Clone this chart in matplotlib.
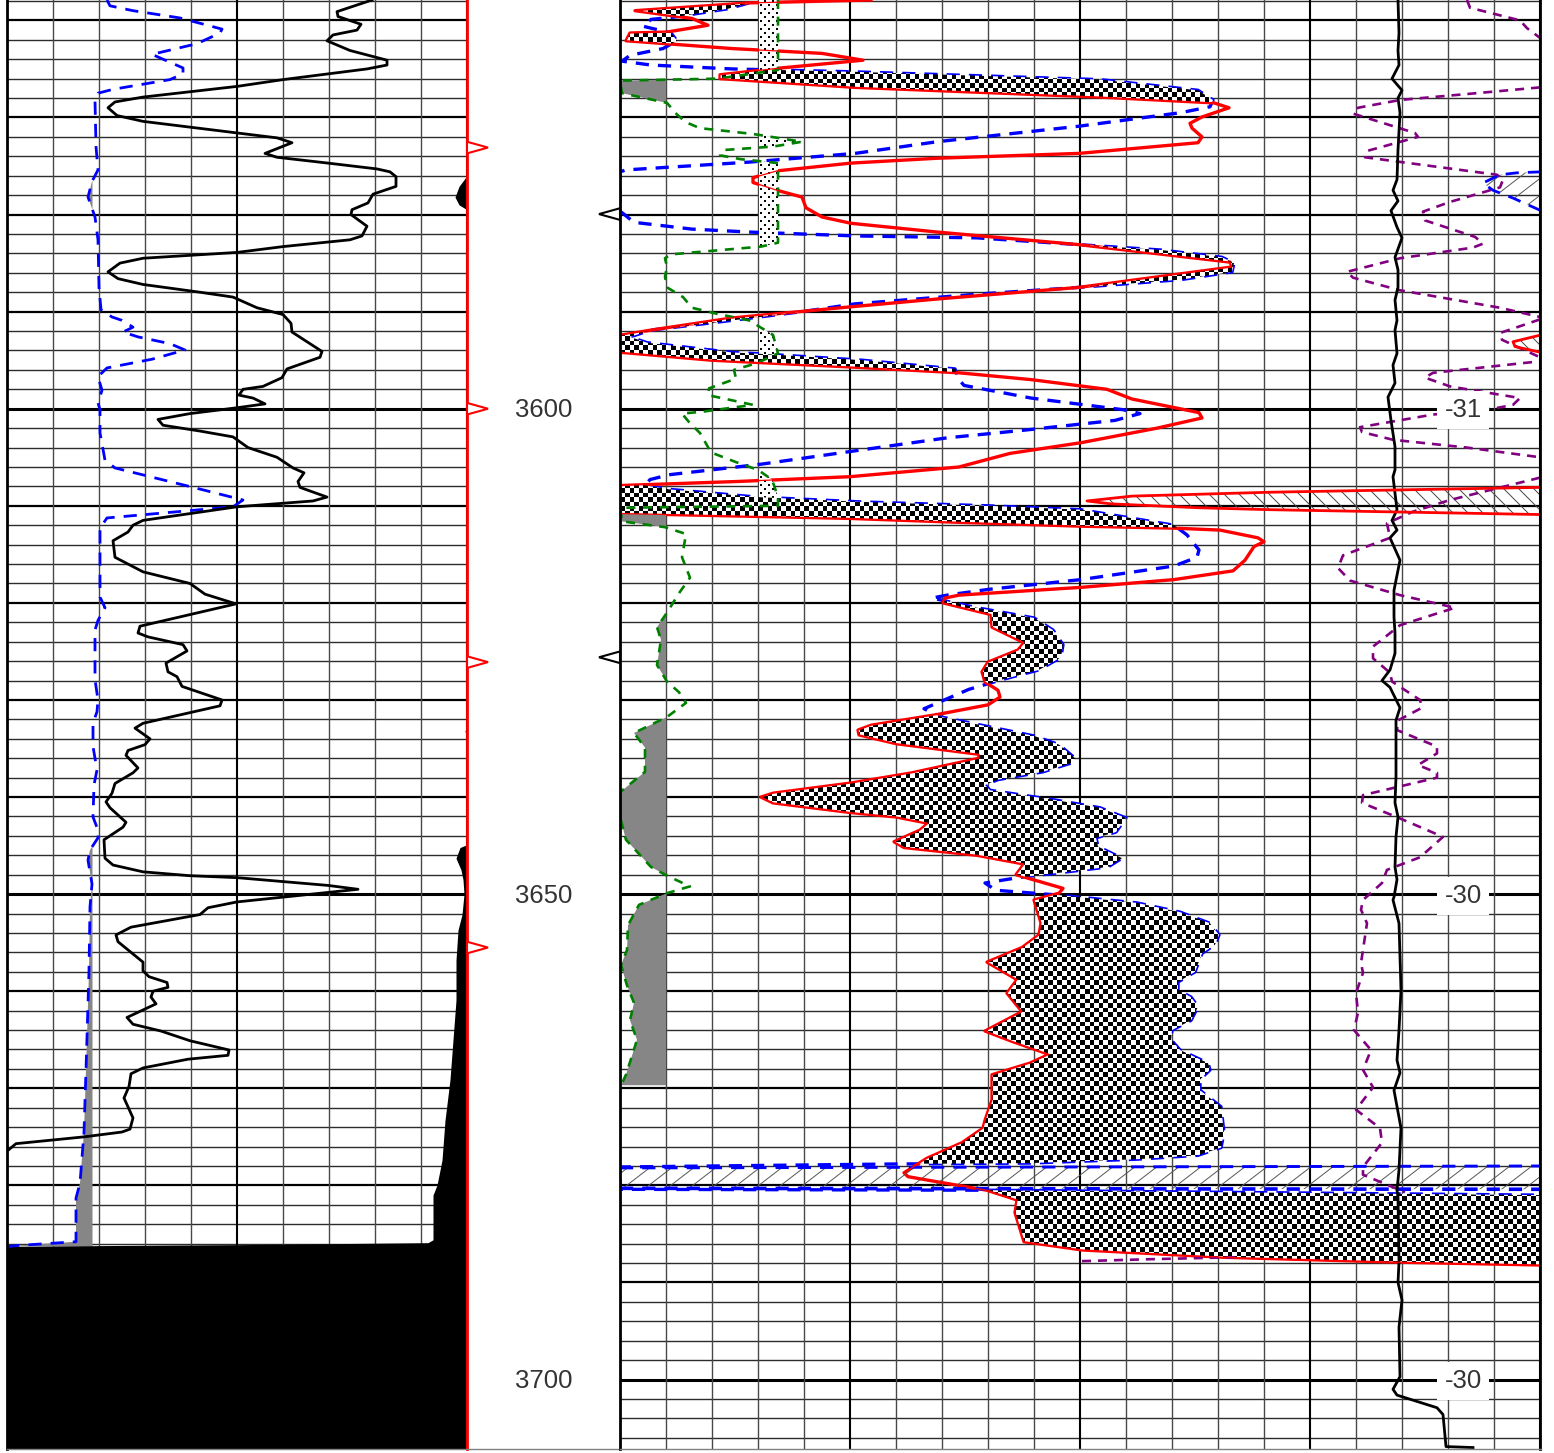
import numpy as np
import matplotlib
matplotlib.use('Agg')
import matplotlib.pyplot as plt
from matplotlib.collections import LineCollection
from matplotlib.patches import Polygon
from matplotlib.path import Path

plt.rcParams['font.family'] = ['Liberation Sans', 'DejaVu Sans']
plt.rcParams['lines.scale_dashes'] = False

W, H = 1554, 1453
DEPTH_TOP, DEPTH_BOT = 3557.9, 3707.15
LEFT_MAX, RIGHT_MAX = 460, 921

# left track
gr_v = [365, 330, 331, 354, 350, 326, 320, 343, 380, 380, 360, 276, 230, 136, 108, 101, 110, 136, 230, 270, 285, 258,
        270, 321, 370, 383, 389, 389, 366, 361, 345, 344, 360, 355, 343, 276, 230, 136, 113, 101, 111, 136, 193, 226,
        250, 276, 284, 285, 315, 313, 280, 275, 256, 236, 232, 246, 258, 230, 183, 151, 156, 193, 226, 241, 270, 286,
        297, 291, 293, 320, 306, 230, 136, 126, 121, 106, 108, 136, 183, 198, 229, 183, 133, 131, 141, 176, 180, 159,
        161, 170, 175, 215, 213, 183, 136, 128, 143, 138, 121, 119, 131, 126, 108, 105, 99, 103, 119, 116, 97, 98, 106,
        136, 183, 230, 321, 351, 286, 230, 201, 193, 124, 109, 111, 136, 136, 142, 160, 161, 146, 144, 149, 120, 126,
        154, 183, 222, 221, 181, 136, 124, 122, 117, 126, 123, 115, 77, 9, 2]
gr_d = [3557.9, 3559.1, 3559.6, 3560.4, 3561.0, 3561.5, 3562.1, 3563.1, 3564.1, 3564.6, 3565.0, 3566.1, 3566.8, 3567.9,
        3568.4, 3569.0, 3569.8, 3570.4, 3571.6, 3572.1, 3572.6, 3573.7, 3574.1, 3574.7, 3575.3, 3575.6, 3576.1, 3577.1,
        3577.9, 3578.8, 3579.5, 3580.0, 3581.2, 3582.2, 3582.6, 3583.3, 3583.9, 3584.5, 3585.0, 3585.9, 3586.6, 3587.2,
        3588.0, 3588.5, 3589.6, 3590.3, 3591.2, 3592.1, 3594.1, 3594.7, 3595.9, 3596.8, 3597.7, 3598.0, 3598.6, 3598.9,
        3599.5, 3599.9, 3600.5, 3601.1, 3601.7, 3602.3, 3602.9, 3604.0, 3605.0, 3606.1, 3606.6, 3607.5, 3608.1, 3609.1,
        3609.5, 3610.1, 3611.5, 3612.0, 3612.7, 3613.6, 3615.3, 3616.8, 3618.0, 3619.1, 3620.1, 3621.2, 3622.4, 3623.1,
        3623.5, 3624.3, 3624.95, 3626.2, 3627.1, 3627.6, 3628.6, 3630.0, 3630.6, 3631.3, 3632.4, 3632.9, 3634.0, 3634.6,
        3635.2, 3635.7, 3637.0, 3637.5, 3638.6, 3639.6, 3640.5, 3641.1, 3642.6, 3643.1, 3644.4, 3646.3, 3647.0, 3647.7,
        3648.1, 3648.3, 3649.1, 3649.5, 3650.2, 3650.8, 3651.4, 3652.1, 3653.4, 3654.2, 3654.9, 3657.0, 3657.9, 3658.5,
        3659.1, 3659.6, 3660.0, 3660.6, 3661.3, 3662.7, 3663.4, 3664.1, 3665.1, 3666.05, 3666.6, 3667.0, 3667.9, 3668.5,
        3669.8, 3671.0, 3673.05, 3674.2, 3674.5, 3675.0, 3675.7, 3676.3]

left_blue_v = [100, 103, 126, 173, 215, 213, 190, 145, 176, 176, 163, 106, 91, 88, 89, 91, 85, 81, 88, 91, 92, 94, 105,
               115, 126, 116, 131, 163, 178, 145, 100, 91, 95, 91, 93, 93, 98, 108, 190, 236, 226, 100, 93, 93, 98, 91,
               88, 88, 91, 90, 86, 86, 90, 87, 86, 91, 91, 83, 81, 85, 83, 82, 80, 79, 77, 73, 69, 69, 9, 1]
left_blue_d = [3557.9, 3558.5, 3559.0, 3559.75, 3560.9, 3561.3, 3562.4, 3563.5, 3564.9, 3565.5, 3566.1, 3567.1, 3567.5,
               3568.2, 3573.0, 3575.4, 3576.6, 3578.2, 3580.25, 3582.6, 3587.5, 3589.8, 3590.55, 3590.9, 3591.6, 3592.1,
               3592.6, 3593.3, 3593.95, 3594.9, 3595.8, 3596.7, 3598.1, 3599.4, 3600.1, 3602.5, 3605.3, 3606.1, 3608.2,
               3609.4, 3610.1, 3611.25, 3612.3, 3619.4, 3620.5, 3621.8, 3622.8, 3627.9, 3630.0, 3631.2, 3632.4, 3634.8,
               3637.2, 3638.75, 3642.05, 3643.4, 3644.2, 3645.45, 3646.5, 3648.95, 3651.3, 3657.9, 3664.7, 3668.1,
               3674.5, 3679.75, 3681.3, 3685.8, 3686.2, 3686.3]

caliper_v = [460, 460, 452, 448, 452, 460, 460, 458, 460, 460, 453, 449, 454, 456, 457, 455, 451, 449, 449, 446, 443,
             438, 435, 430, 426, 426, 421, 233, 93, 0, 0]
caliper_d = [3557.9, 3576.0, 3577.1, 3578.2, 3579.0, 3579.5, 3632.7, 3633.2, 3633.8, 3644.9, 3645.2, 3646.3, 3647.5,
             3648.5, 3650.0, 3652.1, 3653.7, 3656.8, 3660.9, 3665.0, 3669.1, 3673.3, 3677.4, 3679.96, 3681.0, 3685.6,
             3685.9, 3686.1, 3686.2, 3686.3, 3707.15]

# right track
red_v = [251, 129, 15, 72, 88, 47, 10, 6, 112, 202, 243, 161, 100, 100, 235, 480, 594, 609, 582, 570, 572, 582, 578,
         459, 317, 231, 157, 133, 133, 157, 182, 186, 202, 231, 317, 459, 610, 612, 459, 317, 231, 112, 31, 2, 0, 0, 2,
         91, 230, 339, 411, 487, 512, 579, 582, 537, 461, 390, 339, 230, 116, 3, 0, 0, 2, 49, 230, 339, 461, 554, 600,
         638, 644, 634, 625, 613, 554, 461, 339, 325, 323, 339, 371, 372, 404, 398, 368, 362, 365, 378, 380, 368, 317,
         251, 238, 239, 276, 359, 359, 292, 231, 153, 141, 153, 231, 276, 308, 300, 274, 284, 357, 404, 396, 443, 439,
         414, 421, 419, 402, 367, 397, 387, 402, 365, 393, 429, 410, 372, 372, 365, 363, 342, 307, 284, 288, 324, 367,
         397, 395, 404, 462, 603, 775, 921]
red_d = [3557.9, 3558.2, 3559.0, 3559.8, 3560.5, 3561.2, 3561.3, 3562.1, 3562.9, 3563.4, 3564.1, 3564.9, 3565.6, 3566.0,
         3566.9, 3567.9, 3568.5, 3569.0, 3569.95, 3570.6, 3571.1, 3572.0, 3572.6, 3573.7, 3574.2, 3574.7, 3575.5, 3576.2,
         3576.7, 3577.5, 3578.2, 3579.3, 3580.25, 3580.9, 3581.8, 3583.1, 3584.9, 3585.4, 3587.5, 3588.7, 3589.5, 3590.65,
         3591.9, 3592.4, 3592.5, 3594.1, 3594.2, 3595.0, 3595.7, 3596.3, 3597.0, 3598.0, 3599.0, 3600.4, 3600.95, 3602.0,
         3603.5, 3604.6, 3606.0, 3607.0, 3607.5, 3607.9, 3608.0, 3610.7, 3610.8, 3610.9, 3611.3, 3611.7, 3612.1, 3612.3,
         3612.5, 3613.3, 3613.7, 3614.2, 3615.6, 3616.7, 3617.6, 3618.4, 3619.2, 3619.5, 3620.0, 3620.4, 3621.2, 3622.5,
         3624.1, 3624.85, 3626.1, 3627.1, 3628.15, 3629.0, 3629.7, 3630.5, 3631.5, 3632.6, 3633.1, 3633.6, 3634.5, 3635.6,
         3636.0, 3637.5, 3638.55, 3639.6, 3640.0, 3640.6, 3641.6, 3642.05, 3642.7, 3643.4, 3644.6, 3645.2, 3646.0, 3646.9,
         3648.0, 3649.4, 3649.9, 3650.6, 3652.97, 3654.2, 3655.5, 3657.0, 3658.8, 3660.2, 3662.1, 3664.1, 3665.2, 3666.5,
         3667.4, 3668.6, 3671.2, 3673.3, 3674.1, 3675.6, 3677.2, 3678.7, 3679.1, 3679.75, 3680.5, 3681.5, 3682.8, 3685.8,
         3686.65, 3687.4, 3687.9, 3688.2]

blue_v = [129, 108, 55, 31, 23, 51, 57, 43, 10, 2, 31, 112, 235, 480, 578, 593, 590, 561, 459, 317, 235, 129, 6, 0, 0,
          2, 14, 72, 129, 235, 357, 459, 541, 602, 614, 612, 561, 459, 357, 235, 182, 112, 31, 10, 27, 112, 150, 242,
          335, 339, 344, 411, 503, 520, 495, 405, 327, 234, 142, 49, 30, 25, 49, 137, 242, 369, 461, 554, 567, 579, 577,
          554, 461, 369, 327, 312, 357, 414, 433, 443, 441, 419, 382, 349, 304, 321, 414, 439, 455, 451, 423, 378, 365,
          370, 435, 480, 506, 496, 476, 478, 502, 488, 439, 398, 365, 376, 439, 517, 560, 590, 599, 595, 582, 575, 558,
          558, 571, 578, 571, 552, 551, 560, 588, 590, 580, 580, 601, 604, 601, 578, 517, 410, 269, 2, 0, 0, 380, 921,
          921]
blue_d = [3558.2, 3558.8, 3559.65, 3559.9, 3560.6, 3561.3, 3562.1, 3562.9, 3563.6, 3564.2, 3564.6, 3565.0, 3565.3,
          3566.1, 3567.2, 3568.2, 3568.9, 3569.5, 3570.9, 3572.5, 3573.7, 3574.6, 3575.4, 3575.6, 3579.7, 3579.8, 3580.8,
          3581.5, 3581.8, 3582.2, 3582.4, 3583.1, 3583.65, 3584.4, 3585.0, 3585.9, 3586.7, 3587.5, 3588.2, 3589.2, 3590.0,
          3590.9, 3591.9, 3592.6, 3593.2, 3594.2, 3594.4, 3595.0, 3595.9, 3597.0, 3597.6, 3598.9, 3600.1, 3600.5, 3601.2,
          3602.2, 3603.0, 3604.35, 3605.7, 3606.8, 3607.3, 3607.9, 3608.3, 3609.1, 3609.6, 3610.0, 3610.4, 3612.0, 3613.0,
          3614.55, 3615.3, 3616.2, 3617.6, 3618.6, 3619.2, 3619.5, 3620.5, 3621.55, 3622.8, 3624.3, 3625.6, 3626.9,
          3627.9, 3628.9, 3630.9, 3631.75, 3633.7, 3634.6, 3636.0, 3636.5, 3637.4, 3638.2, 3638.75, 3639.3, 3640.3,
          3641.1, 3642.15, 3643.6, 3644.2, 3645.1, 3646.3, 3647.2, 3647.8, 3648.3, 3648.85, 3649.6, 3650.1, 3650.9,
          3651.85, 3653.0, 3654.2, 3655.2, 3656.1, 3658.0, 3659.05, 3659.9, 3660.6, 3661.6, 3663.0, 3664.0, 3665.0,
          3666.05, 3667.4, 3668.1, 3669.1, 3670.2, 3671.9, 3674.6, 3676.1, 3676.9, 3677.3, 3677.7, 3677.8, 3678.1,
          3678.2, 3680.4, 3680.5, 3681.0, 3688.3]

# pieces that wrapped round the track edge
wrap_blue_v = [921, 897, 880, 863, 873, 893, 921]
wrap_blue_d = [3575.6, 3575.7, 3575.9, 3576.75, 3577.5, 3578.3, 3579.6]
wrap_red_a_v = [921, 893, 895, 921]
wrap_red_a_d = [3592.4, 3593.1, 3593.6, 3594.2]
wrap_red_b_v = [921, 650, 512, 467, 491, 579, 650, 921]
wrap_red_b_d = [3608.1, 3608.6, 3609.0, 3609.5, 3609.8, 3610.2, 3610.4, 3610.9]
band_v = [0, 921]
band_top_d = [3678.2, 3678.0]
band_bot_d = [3680.3, 3680.4]

green_v = [158, 158, 98, 2, 0, 2, 47, 57, 66, 80, 133, 182, 153, 104, 100, 121, 158, 158, 141, 51, 45, 47, 45, 47, 63,
           72, 96, 129, 153, 158, 137, 114, 116, 89, 88, 133, 83, 62, 70, 80, 91, 116, 138, 152, 158, 158, 0, 2, 45, 66,
           62, 70, 59, 47, 37, 41, 37, 47, 59, 66, 47, 14, 25, 25, 0, 0, 6, 31, 47, 70, 47, 19, 8, 7, 1, 7, 14, 10, 17,
           6, 1]
green_d = [3557.9, 3565.1, 3566.0, 3566.2, 3566.3, 3567.5, 3568.5, 3569.7, 3570.5, 3571.1, 3571.7, 3572.5, 3573.0,
           3573.35, 3573.9, 3574.3, 3574.7, 3582.9, 3583.3, 3584.1, 3584.5, 3585.4, 3586.4, 3587.5, 3588.5, 3589.6,
           3590.2, 3590.9, 3592.4, 3594.3, 3595.3, 3596.0, 3596.9, 3597.9, 3598.6, 3599.6, 3600.3, 3600.5, 3601.5,
           3602.5, 3604.5, 3605.5, 3606.3, 3607.3, 3609.1, 3610.0, 3610.2, 3611.6, 3612.2, 3612.9, 3615.3, 3617.4,
           3619.0, 3621.0, 3622.5, 3623.8, 3626.4, 3628.1, 3629.2, 3630.3, 3631.75, 3633.4, 3634.9, 3637.4, 3639.5,
           3642.05, 3644.4, 3647.2, 3648.1, 3649.2, 3649.9, 3651.1, 3653.2, 3655.75, 3657.3, 3659.4, 3661.2, 3663.0,
           3665.0, 3668.6, 3669.7]

purple1_v = [847, 850, 900, 907, 920]
purple1_d = [3557.9, 3558.7, 3560.0, 3560.8, 3561.8]
purple2_v = [920, 867, 780, 738, 733, 795, 798, 747, 745, 877, 883, 880, 830, 803, 805, 855, 863, 853, 780, 727, 733,
             780, 880, 920]
purple2_d = [3566.9, 3567.4, 3568.2, 3569.0, 3569.6, 3571.6, 3572.0, 3573.45, 3574.1, 3575.9, 3576.4, 3577.2, 3578.7,
             3579.7, 3580.6, 3582.3, 3583.0, 3583.4, 3584.5, 3585.9, 3586.5, 3587.8, 3589.6, 3590.55]
purple3_v = [920, 880, 882, 920]
purple3_d = [3590.8, 3592.2, 3592.9, 3594.7]
purple4_v = [912, 813, 805, 830, 900, 893, 873, 813, 740, 742, 773, 847, 920]
purple4_d = [3595.2, 3596.3, 3596.8, 3597.7, 3598.9, 3599.6, 3600.0, 3600.6, 3601.9, 3602.4, 3603.2, 3604.0, 3605.0]
purple5_v = [920, 830, 793, 767, 770, 723, 718, 730, 780, 835, 780, 753, 753, 770, 772, 800, 802, 778, 777, 817, 817,
             798, 817, 817, 743, 742, 780, 823, 800, 767, 762, 743, 741, 747, 741, 743, 736, 738, 734, 751, 743, 753,
             736, 760, 762, 743, 743, 785]
purple5_d = [3607.1, 3609.4, 3610.6, 3611.8, 3613.3, 3615.1, 3616.4, 3617.7, 3619.2, 3620.5, 3622.3, 3624.5, 3625.7,
             3627.2, 3628.1, 3630.0, 3630.8, 3632.1, 3633.1, 3634.8, 3635.5, 3636.7, 3637.5, 3638.0, 3639.8, 3640.6,
             3642.2, 3644.1, 3646.2, 3647.5, 3648.85, 3650.6, 3651.6, 3653.0, 3657.1, 3658.1, 3660.2, 3662.2, 3664.0,
             3666.05, 3668.1, 3669.9, 3672.2, 3674.1, 3675.6, 3678.1, 3678.9, 3680.7]
purple6_v = [462, 530, 616]
purple6_d = [3687.8, 3687.6, 3687.4]

sp_v = [778, 779, 778, 779, 772, 782, 778, 780, 778, 777, 773, 778, 771, 777, 782, 775, 778, 778, 775, 777, 775, 777,
        773, 775, 768, 771, 775, 775, 773, 777, 772, 777, 770, 780, 774, 774, 775, 775, 770, 762, 770, 780, 776, 776,
        775, 778, 776, 775, 777, 774, 773, 779, 781, 779, 777, 780, 774, 781, 779, 777, 778, 779, 778, 782, 779, 780,
        773, 777, 817, 823, 826, 853]
sp_d = [3557.9, 3561.3, 3563.1, 3564.6, 3566.0, 3567.2, 3568.0, 3569.5, 3573.35, 3576.4, 3577.5, 3578.6, 3579.6, 3581.3,
        3582.4, 3584.4, 3585.7, 3587.5, 3588.8, 3590.9, 3591.9, 3594.3, 3595.5, 3597.35, 3598.8, 3601.2, 3603.9, 3606.3,
        3607.0, 3610.4, 3611.5, 3612.5, 3613.3, 3615.6, 3618.7, 3621.45, 3623.1, 3625.2, 3626.9, 3628.0, 3628.7, 3630.8,
        3632.1, 3637.9, 3640.6, 3642.05, 3644.1, 3647.2, 3648.5, 3650.3, 3650.6, 3653.0, 3659.9, 3664.0, 3667.1, 3668.4,
        3670.2, 3674.1, 3678.4, 3680.5, 3681.2, 3687.9, 3690.0, 3691.8, 3694.6, 3699.7, 3701.0, 3701.6, 3702.9, 3703.6,
        3706.9, 3707.0]

# flags and labels
red_flags = [3573.1, 3600.0, 3626.1, 3655.5]
black_flags = [3579.95, 3625.6]
depth_labels = [3600, 3650, 3700]
scale_labels = ['-31', '-30', '-30']

BLUE_DASH = (0, (9.5, 6.5))
GREEN_DASH = (0, (6.5, 5.5))
PURPLE_DASH = (0, (6.5, 5))


def draw_grid(ax, xmax):
    for d in np.arange(3558, 3708, 2):
        if d % 50 == 0:
            ax.axhline(d, color='black', lw=2.2, zorder=1)
        elif d % 10 == 0:
            ax.axhline(d, color='black', lw=1.6, zorder=1)
        else:
            ax.axhline(d, color='#2c2c2c', lw=1.0, zorder=1)
    for i, v in enumerate(np.arange(0, xmax + 1, 46)):
        if i % 5 == 0:
            ax.axvline(v, color='black', lw=1.5, zorder=1)
        else:
            ax.axvline(v, color='#484848', lw=1.0, zorder=1)


def pattern_fill(ax, grid, a, b, mask, tile):
    # fill between two curves with a bitmap, clipped to the region
    poly = ax.fill_betweenx(grid, a, b, where=mask, color='none')
    clip = Path.make_compound_path(*poly.get_paths())
    poly.remove()
    xmax = ax.get_xlim()[1]
    im = ax.imshow(tile, extent=(0, xmax, DEPTH_BOT, DEPTH_TOP), aspect='auto', cmap='gray', vmin=0, vmax=1,
                   interpolation='nearest', zorder=2)
    im.set_clip_path(clip, transform=ax.transData)
    ax.set_xlim(0, xmax)
    ax.set_ylim(DEPTH_BOT, DEPTH_TOP)


def hatch_lines(ax, clip_v, clip_d, step, run, color):
    poly = Polygon(np.column_stack([clip_v, clip_d]), closed=True, transform=ax.transData, fc='none', ec='none')
    ax.add_patch(poly)
    starts = np.arange(-2500, 3500, step)
    segs = [[(x, DEPTH_TOP), (x + run, DEPTH_BOT)] for x in starts]
    lc = LineCollection(segs, colors=color, linewidths=0.7, zorder=3)
    ax.add_collection(lc, autolim=False)
    lc.set_clip_path(poly)


fig = plt.figure(figsize=(W / 100, H / 100), dpi=100)
ax_l = fig.add_axes([7 / W, (H - 1449) / H, LEFT_MAX / W, 1449 / H])
ax_r = fig.add_axes([620 / W, (H - 1449) / H, RIGHT_MAX / W, 1449 / H])
for ax, xmax in ((ax_l, LEFT_MAX), (ax_r, RIGHT_MAX)):
    ax.set_xlim(0, xmax)
    ax.set_ylim(DEPTH_BOT, DEPTH_TOP)
    ax.set_axis_off()
    ax.set_autoscale_on(False)
    draw_grid(ax, xmax)

# bitmaps used for the fills
rows, cols = np.indices((1449, RIGHT_MAX))
checker = (np.floor(rows / 4.6) + np.floor(cols / 4.6)) % 2
stipple = np.ones((1449, RIGHT_MAX))
stipple[(rows % 8 < 2) & (cols % 8 < 2)] = 0
stipple[(rows % 8 >= 4) & (rows % 8 < 6) & ((cols + 4) % 8 < 2)] = 0

# left track
grid_l = np.arange(DEPTH_TOP, 3686.3, 0.02)
blue_l = np.interp(grid_l, left_blue_d, left_blue_v)
ax_l.fill_betweenx(grid_l, blue_l, 85.5, where=blue_l < 85.5, color='#868686', lw=0, zorder=2)
ax_l.fill_betweenx(caliper_d, caliper_v, LEFT_MAX, color='black', lw=0, zorder=3)
ax_l.plot(left_blue_v, left_blue_d, color='#0000ff', lw=2.0, ls=BLUE_DASH, zorder=4)
ax_l.plot(gr_v, gr_d, color='black', lw=2.0, zorder=5)

# right track fills
grid_r = np.arange(DEPTH_TOP, 3688.3, 0.02)
red_i = np.interp(grid_r, red_d, red_v)
blue_i = np.interp(grid_r, blue_d, blue_v)
grid_g = np.arange(DEPTH_TOP, 3669.7, 0.02)
green_i = np.interp(grid_g, green_d, green_v)
pattern_fill(ax_r, grid_g, green_i, 139, green_i > 139, stipple)
ax_r.fill_betweenx(grid_g, green_i, 46, where=green_i < 46, color='#868686', lw=0, zorder=2)
pattern_fill(ax_r, grid_r, red_i, blue_i, blue_i > red_i, checker)

hatch_lines(ax_r, wrap_blue_v, wrap_blue_d, 22, -1884, '#555555')
hatch_lines(ax_r, wrap_red_a_v, wrap_red_a_d, 15, 1449, '#444444')
hatch_lines(ax_r, wrap_red_b_v, wrap_red_b_d, 15, 1449, '#444444')
hatch_lines(ax_r, [0, 921, 921, 0], band_top_d + band_bot_d[::-1], 22, -1884, '#555555')

# right track curves, the thick strokes go under the checker so only the outer half shows there
for seg_v, seg_d in ((purple1_v, purple1_d), (purple2_v, purple2_d), (purple3_v, purple3_d), (purple4_v, purple4_d),
                     (purple5_v, purple5_d), (purple6_v, purple6_d)):
    ax_r.plot(seg_v, seg_d, color='#800080', lw=1.9, ls=PURPLE_DASH, zorder=4)
ax_r.plot(green_v, green_d, color='#008000', lw=1.9, ls=GREEN_DASH, zorder=4)
ax_r.plot(blue_v, blue_d, color='#0000ff', lw=2.4, ls=BLUE_DASH, zorder=1.6)
ax_r.plot(wrap_blue_v, wrap_blue_d, color='#0000ff', lw=2.0, ls=BLUE_DASH, zorder=4)
ax_r.plot(band_v, band_top_d, color='#0000ff', lw=2.1, ls=BLUE_DASH, zorder=4)
ax_r.plot(band_v, band_bot_d, color='#0000ff', lw=2.6, ls=BLUE_DASH, zorder=4)
ax_r.plot(sp_v, sp_d, color='black', lw=2.0, zorder=5)
ax_r.plot(red_v, red_d, color='#ff0000', lw=2.4, zorder=1.7)
ax_r.plot(red_v, red_d, color='#ff0000', lw=0.9, zorder=6)
ax_r.plot(wrap_red_a_v, wrap_red_a_d, color='#ff0000', lw=2.0, zorder=6)
ax_r.plot(wrap_red_b_v, wrap_red_b_d, color='#ff0000', lw=2.0, zorder=6)

# track borders
ax_l.axvline(0, color='black', lw=2, zorder=7, clip_on=False)
ax_l.axvline(LEFT_MAX, color='#ff0000', lw=2, zorder=7, clip_on=False)
ax_r.axvline(0, color='black', lw=2, zorder=7, clip_on=False)
ax_r.axvline(RIGHT_MAX - 1, color='black', lw=2, zorder=7, clip_on=False)
ax_l.plot([0, 613], [DEPTH_BOT, DEPTH_BOT], color='#808080', lw=1, zorder=8, clip_on=False)
ax_r.plot([0, RIGHT_MAX], [DEPTH_BOT, DEPTH_BOT], color='#808080', lw=1, zorder=8, clip_on=False)

# flags
for d in red_flags:
    ax_l.fill([LEFT_MAX, LEFT_MAX + 21, LEFT_MAX], [d - 0.6, d, d + 0.6], fc='white', ec='#ff0000', lw=1.5,
              clip_on=False, zorder=8)
for d in black_flags:
    ax_r.fill([0, -21, 0], [d - 0.6, d, d + 0.6], fc='white', ec='black', lw=1.5, clip_on=False, zorder=8)

# depth labels
for d, scale in zip(depth_labels, scale_labels):
    ax_l.text(537, d + 0.15, str(d), ha='center', va='center', fontsize=18.5, color='#333333', clip_on=False)
    ax_r.text(843, d + 0.15, scale, ha='center', va='center', fontsize=18.5, color='#333333', zorder=9,
              bbox=dict(fc='white', ec='none', pad=5))

fig.savefig('out.png', dpi=100)
